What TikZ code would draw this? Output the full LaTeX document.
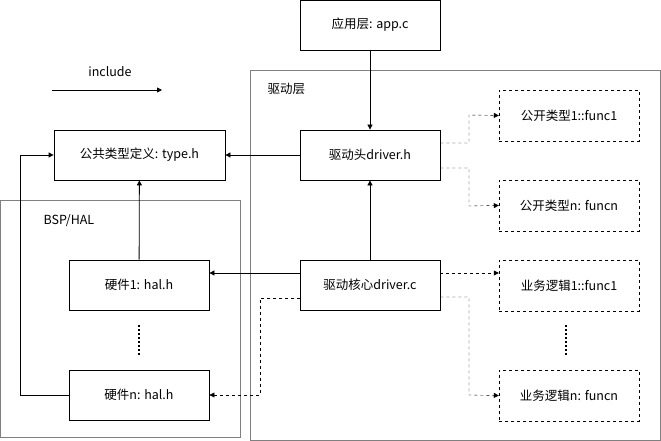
\documentclass[tikz,border=0pt]{standalone}
\usepackage{fontspec}
\setmainfont{Noto Sans CJK SC}
\usetikzlibrary{arrows.meta}
\begin{document}
\begin{tikzpicture}[x=1pt,y=-1pt,font=\fontsize{12.5}{15}\selectfont,
  box/.style={draw,thick,minimum width=140pt,minimum height=50pt,inner sep=0pt},
  dbox/.style={draw,dashed,minimum width=140pt,minimum height=51pt,inner sep=0pt},
  grp/.style={draw=gray,thick},
  dots/.style={draw,line width=1.5pt,dash pattern=on 1.5pt off 2.5pt},
  arr/.style={-{Triangle[width=5pt,length=5pt]},thick},
  darr/.style={-{Triangle[width=5pt,length=5pt]},dashed}]
\useasboundingbox (0,0) rectangle (661,441);
\draw[grp] (250,70) rectangle (660,440);
\draw[grp] (0,200) rectangle (240,437);
\node[anchor=west] (lbl1) at (264,89) {驱动层};
\node[anchor=west] (lbl2) at (40,221) {BSP/HAL};
\node (inc) at (110,72) {include};
\coordinate (ia) at (52,90); \coordinate (ib) at (162,90);
\draw[arr] (ia) -- (ib);
\node[box] (app) at (370,25) {应用层: app.c};
\node[box,minimum width=171pt] (type) at (139.5,155) {公共类型定义: type.h};
\node[box] (dh) at (370,155) {驱动头driver.h};
\node[box] (dc) at (370,285) {驱动核心driver.c};
\node[box] (h1) at (139,285) {硬件1: hal.h};
\node[box] (hn) at (139,395) {硬件n: hal.h};
\node[dbox] (p1) at (569,115.5) {公开类型1::func1};
\node[dbox] (pn) at (569,205.5) {公开类型n: funcn};
\node[dbox] (b1) at (569,285.5) {业务逻辑1::func1};
\node[dbox] (bn) at (569,395.5) {业务逻辑n: funcn};
\coordinate (d1a) at (139,325); \coordinate (d1b) at (139,356);
\coordinate (d2a) at (566,325); \coordinate (d2b) at (566,356);
\draw[dots] (d1a) -- (d1b);
\draw[dots] (d2a) -- (d2b);
\draw[arr] (app) -- (dh);
\draw[arr] (dh) -- (type);
\draw[arr] (dc) -- (dh);
\draw[arr] (dc.west |- 0,273) -- (h1.east |- 0,273);
\draw[arr] (h1) -- (type);
\draw[arr] (hn.west) -- (20,395) -- (20,155) -- (type.west);
\draw[darr] (dh.east |- 0,143) -- (469,143) -- (469,115) -- (p1.west);
\draw[darr] (dh.east |- 0,168) -- (469,168) -- (469,206) -- (pn.west);
\draw[darr] (dc.east |- 0,273) -- (b1.west |- 0,273);
\draw[darr] (dc.east |- 0,297) -- (469,297) -- (469,395) -- (bn.west);
\draw[darr] (dc.west |- 0,298) -- (260,298) -- (260,395) -- (hn.east);
\end{tikzpicture}
\end{document}
